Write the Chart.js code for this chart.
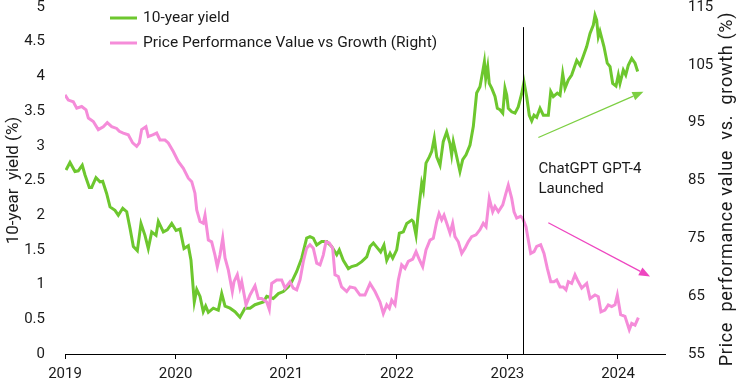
<!DOCTYPE html>
<html>
<head>
<meta charset="utf-8">
<script src="https://cdn.jsdelivr.net/npm/chart.js@4"></script>
<style>
  html, body { margin: 0; padding: 0; background: #fff; }
  #wrap { width: 740px; height: 385px; position: relative; }
</style>
</head>
<body>
<div id="wrap"><canvas id="chart"></canvas></div>
<script>
// ── Data ──────────────────────────────────────────────────────────────────────
const yieldDates = [
  2019.009, 2019.045, 2019.090, 2019.120, 2019.156, 2019.181, 2019.220, 2019.241, 2019.280, 2019.316,
  2019.341, 2019.377, 2019.407, 2019.452, 2019.482, 2019.522, 2019.558, 2019.588, 2019.618, 2019.654,
  2019.687, 2019.723, 2019.753, 2019.784, 2019.823, 2019.844, 2019.889, 2019.925, 2019.965, 2020.004,
  2020.040, 2020.076, 2020.115, 2020.139, 2020.169, 2020.191, 2020.221, 2020.250, 2020.272, 2020.296,
  2020.341, 2020.386, 2020.417, 2020.447, 2020.492, 2020.537, 2020.582, 2020.627, 2020.673, 2020.718,
  2020.793, 2020.824, 2020.883, 2020.929, 2020.974, 2021.019, 2021.050, 2021.095, 2021.140, 2021.185,
  2021.215, 2021.245, 2021.276, 2021.321, 2021.366, 2021.411, 2021.457, 2021.480, 2021.516, 2021.562,
  2021.592, 2021.637, 2021.683, 2021.728, 2021.758, 2021.788, 2021.813, 2021.854, 2021.884, 2021.909,
  2021.939, 2021.963, 2021.999, 2022.023, 2022.059, 2022.090, 2022.135, 2022.149, 2022.174, 2022.194,
  2022.225, 2022.240, 2022.264, 2022.294, 2022.316, 2022.339, 2022.361, 2022.391, 2022.420, 2022.451,
  2022.481, 2022.496, 2022.511, 2022.542, 2022.571, 2022.596, 2022.626, 2022.662, 2022.692, 2022.722,
  2022.752, 2022.777, 2022.792, 2022.804, 2022.822, 2022.836, 2022.858, 2022.888, 2022.909, 2022.933,
  2022.958, 2022.978, 2022.994, 2023.008, 2023.039, 2023.069, 2023.098, 2023.129, 2023.150, 2023.174,
  2023.198, 2023.220, 2023.241, 2023.265, 2023.295, 2023.325, 2023.370, 2023.392, 2023.415, 2023.451,
  2023.476, 2023.500, 2023.521, 2023.551, 2023.581, 2023.627, 2023.656, 2023.686, 2023.717, 2023.747,
  2023.777, 2023.792, 2023.807, 2023.822, 2023.837, 2023.873, 2023.903, 2023.928, 2023.952, 2023.982,
  2024.003, 2024.018, 2024.048, 2024.070, 2024.093, 2024.124, 2024.154, 2024.178
];
const yieldValues = [
  2.65, 2.76, 2.63, 2.64, 2.72, 2.58, 2.40, 2.40, 2.54, 2.48,
  2.49, 2.31, 2.12, 2.07, 2.00, 2.10, 2.05, 1.81, 1.55, 1.49,
  1.88, 1.71, 1.52, 1.76, 1.71, 1.91, 1.76, 1.79, 1.88, 1.78,
  1.80, 1.52, 1.56, 1.35, 0.75, 0.93, 0.83, 0.61, 0.69, 0.60,
  0.66, 0.63, 0.87, 0.69, 0.66, 0.61, 0.53, 0.66, 0.66, 0.71,
  0.75, 0.83, 0.80, 0.87, 0.90, 0.97, 1.04, 1.19, 1.38, 1.67,
  1.69, 1.67, 1.57, 1.62, 1.62, 1.55, 1.43, 1.50, 1.35, 1.23,
  1.26, 1.28, 1.33, 1.40, 1.55, 1.60, 1.55, 1.47, 1.57, 1.35,
  1.45, 1.38, 1.50, 1.74, 1.76, 1.88, 1.93, 1.91, 1.71, 2.03,
  2.46, 2.36, 2.75, 2.84, 2.92, 3.11, 2.84, 2.72, 3.06, 3.20,
  3.03, 2.87, 3.06, 2.84, 2.63, 2.80, 2.87, 3.01, 3.28, 3.76,
  3.85, 4.07, 4.21, 3.97, 4.14, 3.90, 3.83, 3.71, 3.54, 3.52,
  3.47, 3.83, 3.73, 3.54, 3.49, 3.47, 3.56, 3.75, 3.92, 3.71,
  3.44, 3.36, 3.44, 3.41, 3.54, 3.44, 3.44, 3.78, 3.71, 3.76,
  3.73, 4.04, 3.83, 3.95, 4.02, 4.23, 4.16, 4.29, 4.43, 4.62,
  4.74, 4.88, 4.81, 4.57, 4.65, 4.43, 4.19, 4.14, 3.90, 3.86,
  4.02, 3.90, 4.09, 4.02, 4.16, 4.26, 4.19, 4.07
];

const perfDates = [
  2019.000, 2019.030, 2019.075, 2019.106, 2019.151, 2019.190, 2019.211, 2019.256, 2019.301, 2019.346,
  2019.382, 2019.422, 2019.467, 2019.491, 2019.527, 2019.572, 2019.612, 2019.648, 2019.672, 2019.693,
  2019.732, 2019.753, 2019.793, 2019.829, 2019.859, 2019.904, 2019.934, 2019.979, 2020.024, 2020.070,
  2020.115, 2020.146, 2020.175, 2020.191, 2020.221, 2020.250, 2020.266, 2020.296, 2020.326, 2020.356,
  2020.377, 2020.401, 2020.426, 2020.447, 2020.477, 2020.513, 2020.528, 2020.558, 2020.582, 2020.598,
  2020.637, 2020.673, 2020.718, 2020.748, 2020.778, 2020.824, 2020.847, 2020.869, 2020.914, 2020.959,
  2020.989, 2021.034, 2021.064, 2021.095, 2021.125, 2021.155, 2021.185, 2021.215, 2021.245, 2021.276,
  2021.306, 2021.335, 2021.360, 2021.390, 2021.420, 2021.441, 2021.471, 2021.501, 2021.547, 2021.577,
  2021.622, 2021.667, 2021.712, 2021.758, 2021.803, 2021.848, 2021.878, 2021.909, 2021.933, 2021.954,
  2021.984, 2022.014, 2022.044, 2022.074, 2022.104, 2022.144, 2022.174, 2022.204, 2022.234, 2022.264,
  2022.300, 2022.330, 2022.361, 2022.382, 2022.406, 2022.427, 2022.457, 2022.481, 2022.505, 2022.526,
  2022.556, 2022.587, 2022.617, 2022.646, 2022.677, 2022.716, 2022.752, 2022.782, 2022.807, 2022.836,
  2022.867, 2022.888, 2022.918, 2022.958, 2022.987, 2023.008, 2023.039, 2023.060, 2023.084, 2023.120,
  2023.138, 2023.168, 2023.189, 2023.211, 2023.241, 2023.265, 2023.301, 2023.331, 2023.361, 2023.392,
  2023.421, 2023.446, 2023.476, 2023.505, 2023.530, 2023.551, 2023.581, 2023.611, 2023.633, 2023.672,
  2023.717, 2023.747, 2023.792, 2023.822, 2023.846, 2023.882, 2023.912, 2023.943, 2023.973, 2023.994,
  2024.024, 2024.063, 2024.102, 2024.124, 2024.154, 2024.184
];
const perfValues = [
  99.8, 98.9, 98.6, 97.5, 97.8, 97.2, 95.8, 95.2, 93.8, 94.3,
  95.0, 94.3, 94.0, 93.5, 93.2, 92.9, 91.5, 90.9, 91.5, 93.8,
  94.3, 92.6, 92.9, 93.2, 92.0, 92.0, 91.5, 90.0, 88.3, 87.1,
  85.4, 84.8, 82.8, 79.9, 77.9, 77.6, 79.0, 74.7, 74.4, 72.1,
  70.1, 72.1, 75.0, 71.6, 69.5, 65.8, 67.5, 68.7, 66.4, 67.5,
  63.5, 65.2, 66.8, 64.6, 64.6, 64.0, 62.7, 67.2, 67.8, 67.8,
  66.4, 67.5, 66.4, 66.1, 67.8, 71.0, 73.3, 73.9, 73.3, 70.7,
  70.4, 72.1, 74.4, 74.2, 73.3, 68.7, 68.4, 66.6, 65.8, 66.6,
  66.4, 65.2, 65.2, 67.2, 65.8, 64.0, 62.0, 63.5, 62.9, 64.3,
  63.5, 67.8, 70.4, 69.8, 71.0, 71.4, 72.7, 71.3, 70.1, 73.0,
  74.7, 75.0, 77.9, 79.3, 78.2, 79.0, 77.3, 75.9, 77.6, 75.3,
  74.4, 72.4, 73.3, 74.4, 75.3, 75.6, 76.5, 77.6, 77.0, 81.9,
  79.6, 80.5, 79.6, 80.8, 82.8, 84.2, 81.9, 79.6, 78.5, 78.8,
  78.5, 77.0, 74.7, 72.4, 72.7, 73.6, 73.9, 72.4, 69.8, 67.5,
  67.5, 67.8, 66.6, 66.6, 66.1, 67.5, 67.2, 68.7, 67.8, 66.4,
  67.2, 64.6, 65.2, 64.9, 62.3, 62.6, 63.5, 63.2, 63.5, 65.2,
  61.8, 61.5, 59.2, 60.3, 60.0, 61.3
];

const yearTicks  = [2019, 2020, 2021, 2022, 2023, 2024];
const yieldTicks = [0, 0.5, 1, 1.5, 2, 2.5, 3, 3.5, 4, 4.5, 5];
const perfTicks  = [55, 65, 75, 85, 95, 105, 115];

// GPT-4 launch marker and trend arrows (data coordinates)
const launchDate   = 2023.14;
const launchTop    = 4.71;
const launchLabel  = ['ChatGPT GPT-4', 'Launched'];
const yieldArrow   = [[2023.28, 3.12], [2024.23, 3.78]];
const perfArrow    = [[2023.37, 77.7], [2024.29, 68.4]];

const GREEN = '#6DC72E', PINK = '#F58CD9';
const FONT = "Roboto, 'Liberation Sans', sans-serif";
const INK = '#1a1a1a';

// ── Helpers ──────────────────────────────────────────────────────────────────
const zip = (xs, ys) => xs.map((x, i) => ({ x, y: ys[i] }));
const fixTicks = list => scale => { scale.ticks = list.map(v => ({ value: v })); };
// pin axis box size and drop the label overhang padding chart.js adds
const pinWidth = w => s => { s.width = w; s.paddingTop = 0; s.paddingBottom = 0; };

function arrow(ctx, x1, y1, x2, y2, color) {
  const a = Math.atan2(y2 - y1, x2 - x1), head = 11, half = 4.5;
  ctx.save();
  ctx.strokeStyle = color; ctx.fillStyle = color; ctx.lineWidth = 1.3;
  ctx.beginPath();
  ctx.moveTo(x1, y1);
  ctx.lineTo(x2 - head * Math.cos(a), y2 - head * Math.sin(a));
  ctx.stroke();
  ctx.translate(x2, y2); ctx.rotate(a);
  ctx.beginPath();
  ctx.moveTo(0, 0); ctx.lineTo(-head, -half); ctx.lineTo(-head, half); ctx.closePath();
  ctx.fill();
  ctx.restore();
}

const overlay = {
  id: 'overlay',
  afterDatasetsDraw(chart) {
    const { ctx, scales: { x, y, y2 } } = chart;

    // launch line
    const lx = Math.round(x.getPixelForValue(launchDate)) + 0.5;
    ctx.save();
    ctx.strokeStyle = '#000'; ctx.lineWidth = 1;
    ctx.beginPath();
    ctx.moveTo(lx, y.getPixelForValue(launchTop));
    ctx.lineTo(lx, y.getPixelForValue(0));
    ctx.stroke();

    ctx.fillStyle = INK;
    ctx.font = `15px ${FONT}`;
    ctx.textBaseline = 'middle';
    ctx.textAlign = 'left';
    ctx.fillText(launchLabel[0], lx + 15, 169);
    ctx.fillText(launchLabel[1], lx + 15, 189);
    ctx.restore();

    arrow(ctx, x.getPixelForValue(yieldArrow[0][0]), y.getPixelForValue(yieldArrow[0][1]),
               x.getPixelForValue(yieldArrow[1][0]), y.getPixelForValue(yieldArrow[1][1]), '#7CCF42');
    arrow(ctx, x.getPixelForValue(perfArrow[0][0]), y2.getPixelForValue(perfArrow[0][1]),
               x.getPixelForValue(perfArrow[1][0]), y2.getPixelForValue(perfArrow[1][1]), '#EE46C0');

    // legend
    ctx.save();
    ctx.font = `15.5px ${FONT}`;
    ctx.textBaseline = 'middle';
    chart.data.datasets.forEach((ds, i) => {
      const ly = 18 + i * 25;
      ctx.strokeStyle = ds.borderColor; ctx.lineWidth = 3;
      ctx.beginPath(); ctx.moveTo(110, ly); ctx.lineTo(137, ly); ctx.stroke();
      ctx.fillStyle = INK;
      ctx.fillText(ds.label, 143, ly);
    });
    ctx.restore();

    // right axis title, reading bottom to top
    ctx.save();
    ctx.font = `18px ${FONT}`;
    ctx.letterSpacing = '0.7px';
    ctx.fillStyle = INK;
    ctx.textAlign = 'center'; ctx.textBaseline = 'middle';
    ctx.translate(727, 189);
    ctx.rotate(-Math.PI / 2);
    ctx.fillText('Price  performance value  vs.  growth (%)', 0, 0);
    ctx.restore();
  }
};

// ── Chart ─────────────────────────────────────────────────────────────────────
new Chart(document.getElementById('chart'), {
  type: 'line',
  data: {
    datasets: [
      {
        label: '10-year yield',
        data: zip(yieldDates, yieldValues),
        borderColor: GREEN, borderWidth: 3,
        pointRadius: 0, tension: 0, yAxisID: 'y', order: 2
      },
      {
        label: 'Price Performance Value vs Growth (Right)',
        data: zip(perfDates, perfValues),
        borderColor: PINK, borderWidth: 3,
        pointRadius: 0, tension: 0, yAxisID: 'y2', order: 1
      }
    ]
  },
  options: {
    responsive: true, maintainAspectRatio: false, animation: false,
    layout: { padding: { top: 7, left: 0, right: 0, bottom: 0 } },
    plugins: { legend: { display: false }, tooltip: { enabled: false } },
    scales: {
      x: {
        type: 'linear', min: 2019, max: 2024.425,
        afterBuildTicks: fixTicks(yearTicks),
        afterFit: s => { s.height = 31; },
        grid: { display: true, drawOnChartArea: false, drawTicks: true, tickLength: 5, color: '#000' },
        border: { display: true, color: '#000', width: 1 },
        ticks: { color: INK, font: { family: FONT, size: 15 }, padding: 6, maxRotation: 0, callback: v => String(v) }
      },
      y: {
        position: 'left', min: 0, max: 5,
        afterBuildTicks: fixTicks(yieldTicks),
        afterFit: pinWidth(65),
        grid: { display: false }, border: { display: false },
        ticks: { color: INK, font: { family: FONT, size: 15 }, padding: 12, callback: v => String(v) },
        title: { display: true, text: '10-year  yield (%)', color: INK, font: { family: FONT, size: 17 }, padding: { top: 4, bottom: 0 } }
      },
      y2: {
        position: 'right', min: 55, max: 115,
        afterBuildTicks: fixTicks(perfTicks),
        afterFit: pinWidth(75),
        grid: { display: false }, border: { display: false },
        ticks: { color: INK, font: { family: FONT, size: 15 }, padding: 15, callback: v => String(v) }
      }
    }
  },
  plugins: [overlay]
});
</script>
</body>
</html>
